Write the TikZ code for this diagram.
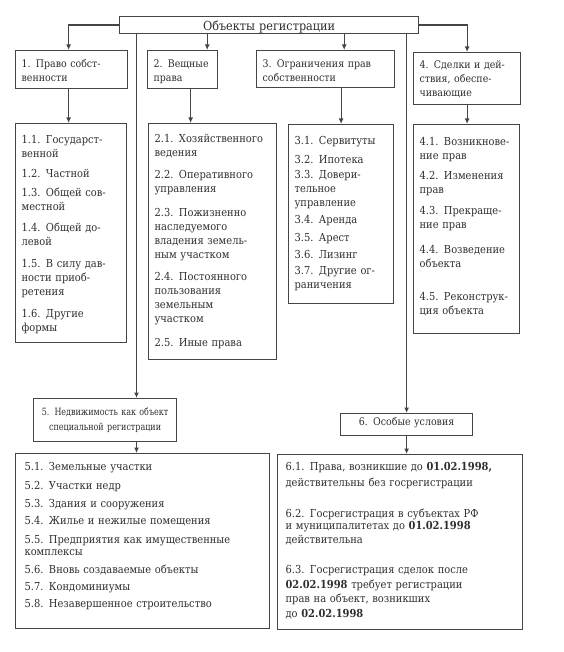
\documentclass[tikz,border=0pt]{standalone}
\usepackage{fontspec}
\setmainfont{DejaVu Serif}[FakeStretch=0.9,WordSpace=1.6]
\newfontfamily\condfont{DejaVu Serif}[FakeStretch=0.8,WordSpace=1.3]
\usetikzlibrary{arrows.meta}
\definecolor{boxgray}{HTML}{454545}
\definecolor{textgray}{HTML}{2E2E2E}

\begin{document}
\begin{tikzpicture}[x=1pt,y=-1pt]
	 \tikzstyle{box}=[draw=boxgray,line width=1.2pt,anchor=north west,inner xsep=6pt,inner ysep=0pt,align=left,text=textgray,font=\fontsize{10.5pt}{14pt}\selectfont]
	 \tikzstyle{list box}=[box,font=\fontsize{11pt}{14pt}\selectfont]
	 \tikzstyle{head box}=[box,align=center]
	 \tikzstyle{link}=[draw=boxgray,line width=1.2pt,-{Latex[length=5.5pt,width=5pt]}]
	 \useasboundingbox (0,0) rectangle (563,652);
	 \node[head box, text width=287pt, text height=13.5pt, text depth=3.5pt, font=\fontsize{12.5pt}{14pt}\selectfont] (reg) at (119,16) {Объекты регистрации};
	 \node[box, text width=100pt, text height=17pt, text depth=21pt] (h1) at (15,50) {1. Право собст-\\венности};
	 \node[box, text width=58pt, text height=17pt, text depth=21pt] (h2) at (147,50) {2. Вещные\\права};
	 \node[box, text width=126pt, text height=17pt, text depth=20pt] (h3) at (256,50) {3. Ограничения прав\\собственности};
	 \node[box, text width=95pt, text height=16pt, text depth=36pt] (h4) at (413,52) {4. Сделки и дей-\\ствия, обеспе-\\чивающие};
	 \node[list box, text width=99pt, text height=20pt, text depth=199pt] (l1) at (15,123) {1.1. Государст-\\венной\\[6pt]1.2. Частной\\[5pt]1.3. Общей сов-\\местной\\[7pt]1.4. Общей до-\\левой\\[8pt]1.5. В силу дав-\\ности приоб-\\ретения\\[8pt]1.6. Другие\\формы};
	 \node[list box, text width=116pt, text height=19pt, text depth=217pt] (l2) at (148,123) {2.1. Хозяйственного\\ведения\\[8pt]2.2. Оперативного\\управления\\[10pt]2.3. Пожизненно\\наследуемого\\владения земель-\\ным участком\\[8pt]2.4. Постоянного\\пользования\\земельным\\участком\\[10pt]2.5. Иные права};
	 \node[list box, text width=93pt, text height=20pt, text depth=159pt] (l3) at (288,124) {3.1. Сервитуты\\[5pt]3.2. Ипотека\\[1pt]3.3. Довери-\\тельное\\управление\\[3pt]3.4. Аренда\\[4pt]3.5. Арест\\[3pt]3.6. Лизинг\\[2pt]3.7. Другие ог-\\раничения};
	 \node[list box, text width=94pt, text height=21pt, text depth=188pt] (l4) at (413,124) {4.1. Возникнове-\\ние прав\\[6pt]4.2. Изменения\\прав\\[7pt]4.3. Прекраще-\\ние прав\\[11pt]4.4. Возведение\\объекта\\[19pt]4.5. Реконструк-\\ция объекта};
	 \node[head box, text width=131pt, text height=17pt, text depth=26pt, font=\condfont\fontsize{10pt}{15pt}\selectfont] (h5) at (33,398) {5. Недвижимость как объект\\специальной регистрации};
	 \node[list box, inner xsep=9pt, text width=236pt, text height=17pt, text depth=158pt] (l5) at (15,453) {5.1. Земельные участки\\[5pt]5.2. Участки недр\\[4pt]5.3. Здания и сооружения\\[3pt]5.4. Жилье и нежилые помещения\\[5pt]5.5. Предприятия как имущественные\\[-2.5pt]комплексы\\[4pt]5.6. Вновь создаваемые объекты\\[3pt]5.7. Кондоминиумы\\[3pt]5.8. Незавершенное строительство};
	 \node[head box, text width=120pt, text height=12pt, text depth=10pt] (h6) at (340,413) {6. Особые условия};
	 \node[list box, inner xsep=8pt, text width=229pt, text height=16pt, text depth=159pt] (l6) at (277,454) {6.1. Права, возникшие до \textbf{01.02.1998,}\\[2pt]действительны без госрегистрации\\[17pt]6.2. Госрегистрация в субъектах РФ\\[-2pt]и муниципалитетах до \textbf{01.02.1998}\\действительна\\[16pt]6.3. Госрегистрация сделок после\\[1pt]\textbf{02.02.1998} требует регистрации\\прав на объект, возникших\\[1pt]до \textbf{02.02.1998}};
	 \draw[link] (reg.west) -| ([xshift=-3pt]h1.north);
	 \draw[link] ([xshift=-11pt]h2.north east |- reg.south) -- ([xshift=-11pt]h2.north east);
	 \draw[link] ([xshift=-51pt]h3.north east |- reg.south) -- ([xshift=-51pt]h3.north east);
	 \draw[link] (reg.east) -| (h4.north);
	 \draw[link] ([xshift=-3pt]h1.south) -- ([xshift=-3pt]h1.south |- l1.north);
	 \draw[link] ([xshift=8pt]h2.south) -- ([xshift=8pt]h2.south |- l2.north);
	 \draw[link] (l3.north |- h3.south) -- (l3.north);
	 \draw[link] (h4.south) -- (h4.south |- l4.north);
	 \draw[link] ([xshift=17.5pt]reg.south west) -- ([xshift=17.5pt]reg.south west |- h5.north);
	 \draw[link] ([xshift=17.5pt]reg.south west |- h5.south) -- ([xshift=17.5pt]reg.south west |- l5.north);
	 \draw[link] (h6.north |- reg.south) -- (h6.north);
	 \draw[link] (h6.south) -- (h6.south |- l6.north);
\end{tikzpicture}
\end{document}
